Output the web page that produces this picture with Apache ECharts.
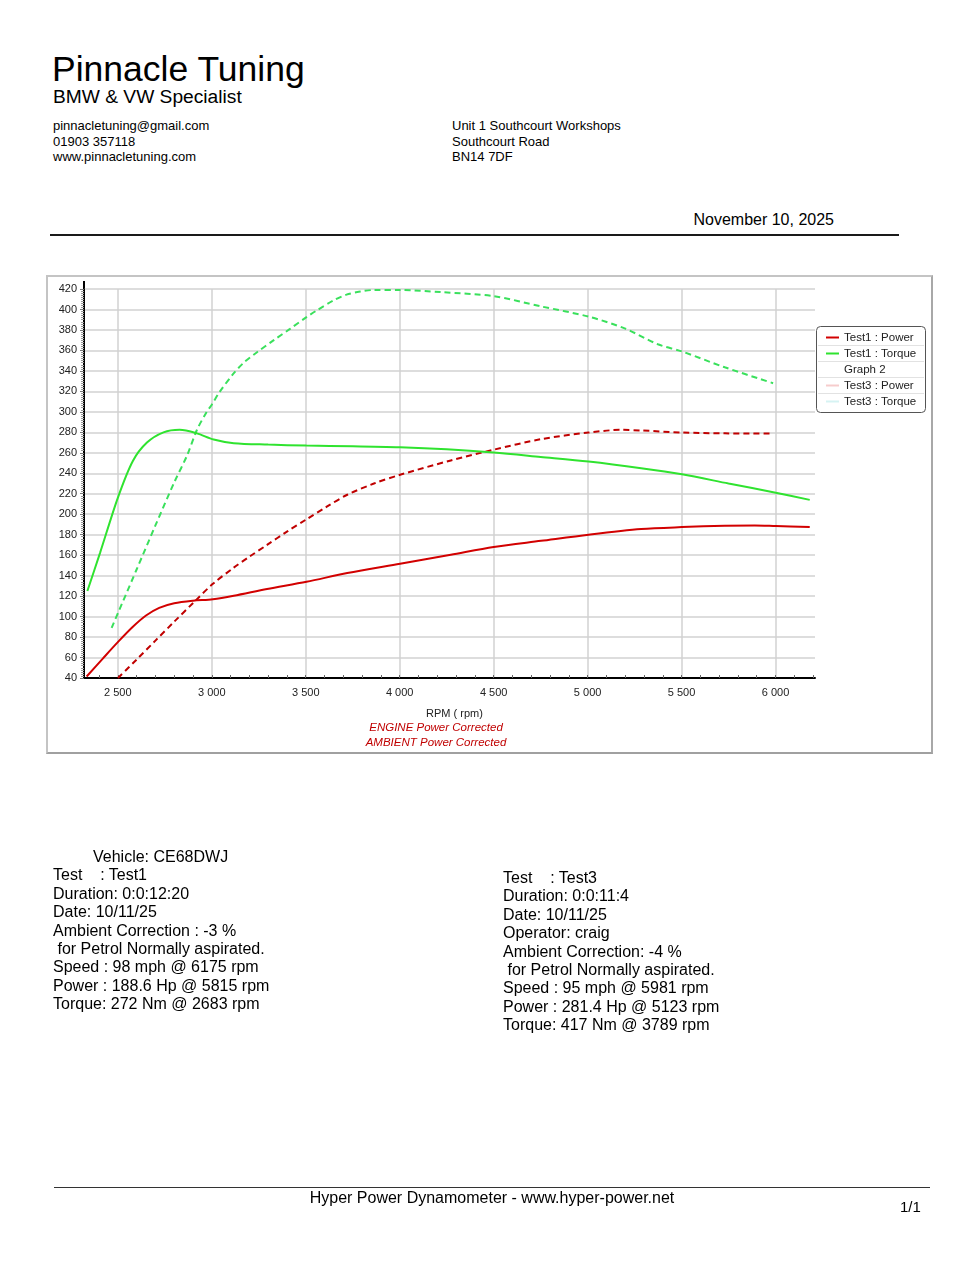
<!DOCTYPE html>
<html>
<head>
<meta charset="utf-8">
<title>Pinnacle Tuning - Dyno report</title>
<script src="https://cdn.jsdelivr.net/npm/echarts@6/dist/echarts.min.js"></script>
<style>
  html, body { margin: 0; padding: 0; background: #fff; }
  body { width: 980px; height: 1268px; position: relative; overflow: hidden;
         font-family: 'Liberation Sans', Arial, sans-serif; color: #000; }
  .t { position: absolute; white-space: pre; }
  .title { left: 52px; top: 52px; font-size: 35.5px; line-height: 35.5px; }
  .sub { left: 53px; top: 87px; font-size: 19.2px; line-height: 19.2px; }
  .contact { left: 53px; top: 118px; font-size: 13px; line-height: 15.5px; }
  .addr { left: 452px; top: 118px; font-size: 13px; line-height: 15.5px; }
  .date { right: 146px; top: 212px; font-size: 16px; line-height: 16px; }
  .rule { position: absolute; left: 50px; top: 234px; width: 849px; height: 2px; background: #1a1a1a; }
  .box { position: absolute; left: 46px; top: 275px; width: 883px; height: 475px;
         border: 2px solid #c4c4c4; border-right-color: #a8a8a8; border-bottom-color: #a0a0a0; }
  #chart { position: absolute; left: 0; top: 0; width: 980px; height: 1268px; }
  .info { font-size: 16px; line-height: 18.4px; }
  .left { left: 53px; top: 848px; }
  .right { left: 503px; top: 869px; }
  .foot-rule { position: absolute; left: 54px; top: 1187px; width: 876px; height: 1px; background: #333; }
  .foot { left: 0; width: 984px; text-align: center; top: 1190px; font-size: 16px; line-height: 16px; }
  .page { left: 900px; top: 1199px; font-size: 15px; line-height: 15px; }
</style>
</head>
<body>
<div class="t title">Pinnacle Tuning</div>
<div class="t sub">BMW &amp; VW Specialist</div>
<div class="t contact">pinnacletuning@gmail.com
01903 357118
www.pinnacletuning.com</div>
<div class="t addr">Unit 1 Southcourt Workshops
Southcourt Road
BN14 7DF</div>
<div class="t date">November 10, 2025</div>
<div class="rule"></div>

<div class="box"></div>
<div id="chart"></div>

<div class="t info left">         Vehicle: CE68DWJ
Test    : Test1
Duration: 0:0:12:20
Date: 10/11/25
Ambient Correction : -3 %
 for Petrol Normally aspirated.
Speed : 98 mph @ 6175 rpm
Power : 188.6 Hp @ 5815 rpm
Torque: 272 Nm @ 2683 rpm</div>

<div class="t info right">Test    : Test3
Duration: 0:0:11:4
Date: 10/11/25
Operator: craig
Ambient Correction: -4 %
 for Petrol Normally aspirated.
Speed : 95 mph @ 5981 rpm
Power : 281.4 Hp @ 5123 rpm
Torque: 417 Nm @ 3789 rpm</div>

<div class="foot-rule"></div>
<div class="t foot">Hyper Power Dynamometer - www.hyper-power.net</div>
<div class="t page">1/1</div>

<script>
// Test1 (solid lines)
const test1PowerRpm = [2334, 2420, 2500, 2580, 2650, 2720, 2800, 2900, 3006, 3117, 3294, 3504, 3721, 4002, 4272, 4500, 4752, 5005, 5285, 5502, 5730, 5890, 6001, 6182]
const test1Power = [41.5, 59, 75, 90, 101, 108.5, 113, 115.5, 117, 120.4, 127, 134, 142.5, 151.6, 160.4, 168, 174, 180, 185.5, 187.4, 188.7, 189, 188.4, 187.4]
const test1TorqueRpm = [2338, 2405, 2500, 2580, 2655, 2743, 2829, 2921, 3010, 3117, 3300, 3504, 3750, 4002, 4250, 4500, 4750, 5005, 5285, 5502, 5750, 6001, 6182]
const test1Torque = [125, 162, 216, 252, 270, 280, 282.5, 279, 273, 269.4, 268, 267, 266.5, 265.5, 263.5, 260.3, 256, 251.5, 245, 239, 230, 221, 214]

// Test3 (dashed lines)
const test3PowerRpm = [2501, 2600, 2700, 2800, 2910, 3006, 3117, 3200, 3294, 3400, 3504, 3614, 3721, 3863, 4002, 4272, 4500, 4752, 5005, 5179, 5285, 5502, 5730, 5978]
const test3Power = [40, 58, 76.5, 95, 115, 132, 147.8, 158.5, 170, 183, 195, 207.6, 219, 230, 238.5, 252.5, 263, 273.3, 279.8, 282.4, 281.8, 279.8, 279, 278.8]
const test3TorqueRpm = [2467, 2600, 2700, 2800, 2870, 2920, 2973, 3000, 3040, 3114, 3170, 3239, 3330, 3416, 3500, 3558, 3650, 3717, 3790, 3860, 4000, 4220, 4500, 4752, 5005, 5197, 5374, 5502, 5730, 5987]
const test3Torque = [89, 146, 189, 231, 258, 282, 300, 307, 319, 337, 348, 358, 370, 381, 392, 399, 409, 414.5, 417.5, 419, 419, 417, 413, 403, 393, 381.5, 366, 359, 343.5, 328]

const rpmLabels = [2500, 3000, 3500, 4000, 4500, 5000, 5500, 6000]
const rpmMinorTicks = [2400, 2500, 2600, 2700, 2800, 2900, 3000, 3100, 3200, 3300, 3400, 3500, 3600, 3700, 3800, 3900, 4000, 4100, 4200, 4300, 4400, 4500, 4600, 4700, 4800, 4900, 5000, 5100, 5200, 5300, 5400, 5500, 5600, 5700, 5800, 5900, 6000, 6100, 6200]
const legendNames = ['Test1 : Power', 'Test1 : Torque', 'Graph 2', 'Test3 : Power', 'Test3 : Torque']

const FONT = "'Liberation Sans', Arial, sans-serif"
const RED = '#d20000'
const RED_DASH = '#c00000'
const GREEN = '#2fe32f'
const GREEN_DASH = '#3ae05c'

const pairs = (xs, ys) => xs.map((x, i) => [x, ys[i]])
const fmtRpm = (v) => String(v).replace(/\B(?=(\d{3})+(?!\d))/g, ' ')

const chart = echarts.init(document.getElementById('chart'), null, { renderer: 'canvas' })

const lineSeries = (name, data, color, dashed, z) => ({
  name,
  type: 'line',
  xAxisIndex: 0,
  data,
  smooth: 0.3,
  symbol: 'none',
  z,
  lineStyle: { color, width: 2, type: dashed ? [6, 4] : 'solid' },
  itemStyle: { color },
  emphasis: { disabled: true }
})

chart.setOption({
  animation: false,
  textStyle: { fontFamily: FONT },
  grid: { left: 84, right: 165, top: 289, bottom: 590, containLabel: false },
  xAxis: [
    {
      type: 'value',
      min: 2320,
      max: 6210,
      position: 'bottom',
      name: 'RPM ( rpm)',
      nameLocation: 'middle',
      nameGap: 30,
      nameTextStyle: { fontSize: 11, color: '#222', fontFamily: FONT, padding: [0, 0, 0, 10] },
      axisLine: { show: true, onZero: false, lineStyle: { color: '#000', width: 2 } },
      axisTick: { show: false, customValues: rpmLabels },
      axisLabel: { customValues: rpmLabels, fontSize: 11, color: '#222', margin: 9, formatter: fmtRpm },
      splitLine: { show: true, lineStyle: { color: '#d2d2d2', width: 1.5 } }
    },
    {
      type: 'value',
      min: 2320,
      max: 6210,
      position: 'bottom',
      axisLine: { show: false, onZero: false },
      axisTick: { show: true, inside: true, length: 3, customValues: rpmMinorTicks, lineStyle: { color: '#666' } },
      axisLabel: { show: false },
      splitLine: { show: false }
    }
  ],
  yAxis: {
    type: 'value',
    min: 40,
    max: 420,
    interval: 20,
    axisLine: { show: true, onZero: false, lineStyle: { color: '#000', width: 2 } },
    axisTick: { show: true, length: 4, lineStyle: { color: '#777' } },
    minorTick: { show: true, splitNumber: 10, length: 3, lineStyle: { color: '#999' } },
    axisLabel: { fontSize: 11, color: '#222', margin: 7 },
    splitLine: { show: true, lineStyle: { color: '#d2d2d2', width: 1.5 } }
  },
  legend: {
    orient: 'vertical',
    left: 821,
    top: 326,
    itemWidth: 13,
    itemHeight: 2,
    itemGap: 3,
    icon: 'rect',
    selectedMode: false,
    textStyle: { fontSize: 11.5, color: '#222', fontFamily: FONT, lineHeight: 13 },
    data: [
      { name: legendNames[0], itemStyle: { color: RED } },
      { name: legendNames[1], itemStyle: { color: GREEN } },
      { name: legendNames[2], itemStyle: { color: 'rgba(0,0,0,0)' } },
      { name: legendNames[3], itemStyle: { color: '#f6cccc' } },
      { name: legendNames[4], itemStyle: { color: '#d6f3f3' } }
    ]
  },
  graphic: [
    {
      type: 'rect',
      shape: { x: 816.5, y: 326.5, width: 109, height: 86, r: 4 },
      style: { fill: 'none', stroke: '#555', lineWidth: 1 },
      z: 5
    },
    ...[345, 361, 377, 393].map((y) => ({
      type: 'line',
      shape: { x1: 818, y1: y + 0.5, x2: 924, y2: y + 0.5 },
      style: { stroke: '#e2e2e2', lineWidth: 1 },
      z: 4
    })),
    {
      type: 'line',
      shape: { x1: 84, y1: 281, x2: 84, y2: 289 },
      style: { stroke: '#000', lineWidth: 2 }
    },
    {
      type: 'text',
      x: 436,
      y: 728,
      style: { text: 'ENGINE Power Corrected', font: 'italic 11.5px ' + FONT, fill: '#c00000', align: 'center', verticalAlign: 'middle' }
    },
    {
      type: 'text',
      x: 436,
      y: 743,
      style: { text: 'AMBIENT Power Corrected', font: 'italic 11.5px ' + FONT, fill: '#c00000', align: 'center', verticalAlign: 'middle' }
    }
  ],
  series: [
    lineSeries(legendNames[0], pairs(test1PowerRpm, test1Power), RED, false, 4),
    lineSeries(legendNames[1], pairs(test1TorqueRpm, test1Torque), GREEN, false, 4),
    { name: legendNames[2], type: 'line', data: [], symbol: 'none' },
    lineSeries(legendNames[3], pairs(test3PowerRpm, test3Power), RED_DASH, true, 3),
    lineSeries(legendNames[4], pairs(test3TorqueRpm, test3Torque), GREEN_DASH, true, 3)
  ]
})
</script>
</body>
</html>
